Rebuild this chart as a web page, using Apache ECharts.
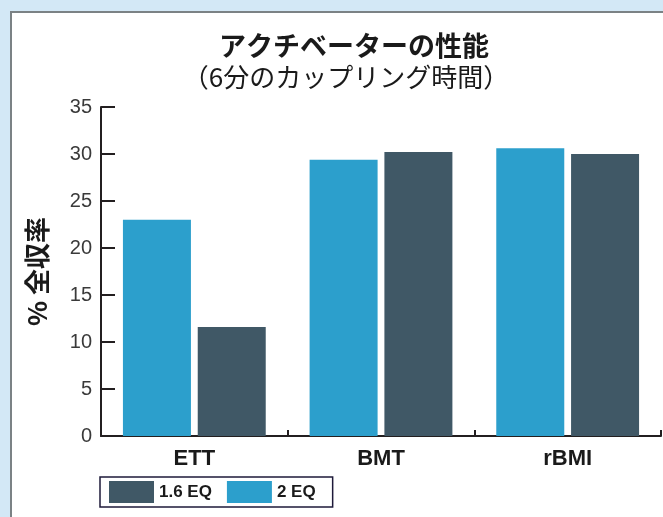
<!DOCTYPE html>
<html>
<head>
<meta charset="utf-8">
<script src="https://cdn.jsdelivr.net/npm/echarts@6/dist/echarts.min.js"></script>
<style>
html,body{margin:0;padding:0;background:#d3e8f6;}
#c{width:663px;height:517px;}
</style>
</head>
<body>
<div id="c"></div>
<script>
const categories = ['ETT', 'BMT', 'rBMI'];
const series2EQ = [23.0, 29.4, 30.6];
const series16EQ = [11.6, 30.2, 30.0];
const yTicks = [0, 5, 10, 15, 20, 25, 30, 35];
const titleText = 'アクチベーターの性能';
const subtitleText = '（6分のカップリング時間）';
const yName = '% 全収率';

const FONT = '"Liberation Sans", "Noto Sans CJK JP", sans-serif';
const JP = '"Noto Sans CJK JP", sans-serif';
const chart = echarts.init(document.getElementById('c'), null, {renderer: 'canvas'});
chart.setOption({
  backgroundColor: '#d3e8f6',
  animation: false,
  graphic: [{
    type: 'rect', z: -10, silent: true,
    shape: {x: 11, y: 12, width: 700, height: 560},
    style: {fill: '#ffffff', stroke: '#7b8285', lineWidth: 2}
  }],
  title: [{
    text: titleText, left: 349, top: 27, textAlign: 'center',
    textStyle: {fontFamily: JP, fontWeight: 'bold', fontSize: 27, color: '#1a1a1a'}
  }, {
    text: subtitleText, left: 341, top: 59, textAlign: 'center',
    textStyle: {fontFamily: JP, fontWeight: 'normal', fontSize: 26, color: '#1a1a1a'}
  }],
  legend: {
    data: ['1.6 EQ', '2 EQ'],
    left: 100, top: 477,
    orient: 'horizontal',
    itemWidth: 45, itemHeight: 22, itemGap: 15,
    padding: [4, 17, 4, 9],
    borderColor: '#1e1a3a', borderWidth: 1.5,
    icon: 'rect',
    textStyle: {fontFamily: FONT, fontWeight: 'bold', fontSize: 17, color: '#1a1a1a'}
  },
  grid: {left: 101, right: 2, top: 107, bottom: 81, containLabel: false},
  xAxis: {
    type: 'category', data: categories,
    axisLine: {show: true, lineStyle: {color: '#231f20', width: 2}},
    axisTick: {show: true, inside: true, length: 6, lineStyle: {color: '#231f20', width: 2}},
    axisLabel: {fontFamily: FONT, fontWeight: 'bold', fontSize: 22, color: '#1a1a1a', margin: 12}
  },
  yAxis: {
    type: 'value', min: yTicks[0], max: yTicks[yTicks.length - 1], interval: 5,
    name: yName, nameLocation: 'middle', nameGap: 51, nameRotate: 90,
    nameTextStyle: {fontFamily: JP, fontWeight: 'bold', fontSize: 26, color: '#1a1a1a'},
    axisLine: {show: true, lineStyle: {color: '#231f20', width: 2}},
    axisTick: {show: true, inside: true, length: 14, lineStyle: {color: '#231f20', width: 2}},
    splitLine: {show: false},
    axisLabel: {fontFamily: FONT, fontSize: 20, color: '#3a3a3a', margin: 9}
  },
  series: [{
    name: '2 EQ', type: 'bar', data: series2EQ,
    barWidth: 68, barGap: '10%',
    itemStyle: {color: '#2c9fcc'}
  }, {
    name: '1.6 EQ', type: 'bar', data: series16EQ,
    barWidth: 68, barGap: '10%',
    itemStyle: {color: '#405866'}
  }]
});
</script>
</body>
</html>
